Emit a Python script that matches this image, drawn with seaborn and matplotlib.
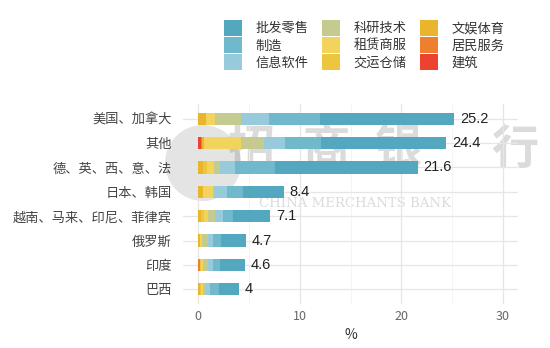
import matplotlib
matplotlib.use("Agg")
import matplotlib.pyplot as plt
import seaborn as sns
import numpy as np
import pandas as pd
from matplotlib.patches import Patch, Ellipse
from matplotlib.ticker import MultipleLocator

regions = ["美国、加拿大", "其他", "德、英、西、意、法", "日本、韩国",
           "越南、马来、印尼、菲律宾", "俄罗斯", "印度", "巴西"]
totals = [25.2, 24.4, 21.6, 8.4, 7.1, 4.7, 4.6, 4.0]

# sector shares (left-to-right stacking order)
jianzhu   = [0.0, 0.3, 0.0, 0.0, 0.0, 0.0, 0.0, 0.0]   # 建筑
jumin     = [0.0, 0.1, 0.0, 0.0, 0.0, 0.0, 0.2, 0.0]   # 居民服务
wenyu     = [0.8, 0.2, 0.5, 0.5, 0.3, 0.2, 0.0, 0.2]   # 文娱体育
jiaoyun   = [0.0, 0.0, 0.4, 0.0, 0.3, 0.0, 0.1, 0.1]   # 交运仓储
zulin     = [0.9, 3.6, 0.7, 1.0, 0.4, 0.2, 0.2, 0.2]   # 租赁商服
keyan     = [2.5, 2.3, 0.5, 0.1, 0.7, 0.6, 0.5, 0.2]   # 科研技术
xinxi     = [2.8, 2.0, 1.5, 1.2, 0.7, 0.5, 0.5, 0.5]   # 信息软件
zhizao    = [5.0, 3.6, 4.0, 1.6, 1.0, 0.7, 0.6, 0.8]   # 制造
pifa      = [13.2, 12.3, 14.0, 4.0, 3.7, 2.5, 2.5, 2.0] # 批发零售

stack_names = ["建筑", "居民服务", "文娱体育", "交运仓储", "租赁商服",
               "科研技术", "信息软件", "制造", "批发零售"]
stack_vals = [jianzhu, jumin, wenyu, jiaoyun, zulin, keyan, xinxi, zhizao, pifa]
colors = {
    "批发零售": "#53A8BF", "制造": "#70B8CB", "信息软件": "#97CADA",
    "科研技术": "#C5CA8E", "租赁商服": "#F2D35C", "交运仓储": "#EDC640",
    "文娱体育": "#E8B52C", "居民服务": "#EE7F2E", "建筑": "#EE4230",
}
legend_order = ["批发零售", "制造", "信息软件", "科研技术", "租赁商服",
                "交运仓储", "文娱体育", "居民服务", "建筑"]

sns.set_theme(style="whitegrid")
plt.rcParams["font.family"] = ["Noto Sans CJK SC", "DejaVu Sans"]

fig = plt.figure(figsize=(5.5, 3.48), dpi=100)
ax = fig.add_axes([183/550, 1-304/348, (518-183)/550, (304-104)/348])

# faint watermark (behind everything)
circ = Ellipse((203/550, 1-163/348), 76/550, 76/348, transform=fig.transFigure,
               facecolor="#C4C4C4", alpha=0.45, edgecolor="none", zorder=-10)
fig.patches.append(circ)
for cx, ch in zip([252, 326, 398, 515], ["招", "商", "银", "行"]):
    fig.text(cx/550, 1-150/348, ch, fontsize=34, color="#888888", alpha=0.3,
             ha="center", va="center", fontweight="bold", zorder=-5)
fig.text(355/550, 1-204/348, "CHINA MERCHANTS BANK", fontsize=9.5,
         color="#888888", alpha=0.3, ha="center", va="center",
         family="DejaVu Serif", zorder=-5)
ax.patch.set_alpha(0)

cum = np.cumsum(np.array(stack_vals), axis=0)
for i in range(len(stack_names) - 1, -1, -1):
    df = pd.DataFrame({"region": regions, "v": cum[i]})
    sns.barplot(data=df, y="region", x="v", orient="h", order=regions,
                color=colors[stack_names[i]], saturation=1, width=0.5,
                linewidth=0, ax=ax)

for yi, t in enumerate(totals):
    lab = f"{t:g}"
    ax.text(t + 0.6, yi, lab, va="center", ha="left", fontsize=10.5,
            color="#222222", family="Liberation Sans")

ax.set_xlim(-1.5, 31.5)
ax.set_ylim(7.6, -0.6)
ax.xaxis.set_major_locator(MultipleLocator(10))
ax.xaxis.set_minor_locator(MultipleLocator(5))
ax.grid(True, which="major", axis="both", color="#E6E6E6", linewidth=0.9)
ax.grid(True, which="minor", axis="x", color="#F2F2F2", linewidth=0.6)
ax.set_axisbelow(True)
for s in ax.spines.values():
    s.set_visible(False)
ax.set_ylabel("")
ax.set_xlabel("%", fontsize=10, color="#333333", labelpad=4)
ax.tick_params(axis="x", labelsize=9, colors="#666666", length=0, pad=4)
ax.tick_params(axis="y", labelsize=9.5, colors="#444444", length=0, pad=8)

handles = [Patch(facecolor=colors[n], edgecolor="none", label=n) for n in legend_order]
fig.legend(handles=handles, ncol=3, loc="upper left",
           bbox_to_anchor=(212/550, 1 - 8/348), frameon=False, fontsize=9.5,
           handlelength=1.4, handleheight=1.45, handletextpad=1.0,
           labelspacing=0.12, columnspacing=1.0, labelcolor="#333333")

fig.savefig("out.png", dpi=100, facecolor="white")
